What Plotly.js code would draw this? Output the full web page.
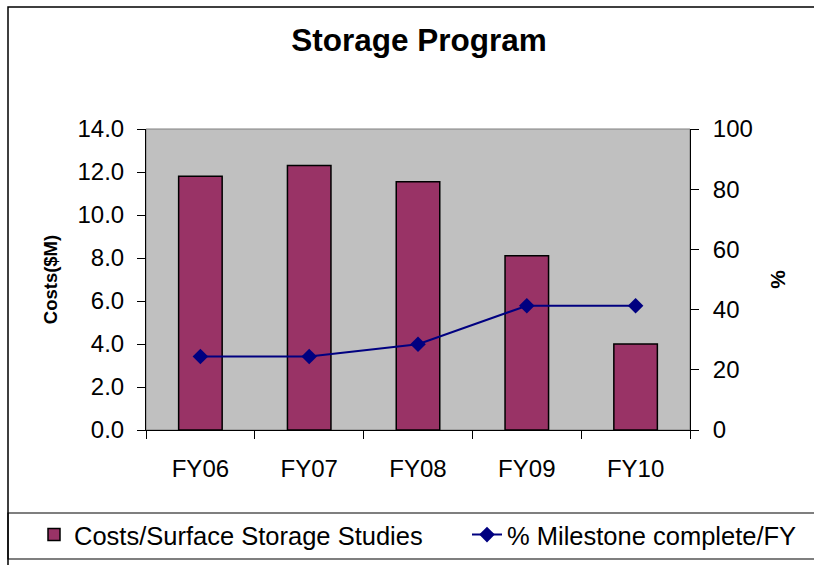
<!DOCTYPE html>
<html>
<head>
<meta charset="utf-8">
<script src="https://cdn.plot.ly/plotly-3.0.1.min.js"></script>
<style>html,body{margin:0;padding:0;background:#fff}#chart{width:814px;height:565px}</style>
</head>
<body>
<div id="chart"></div>
<script>
const categories = ["FY06", "FY07", "FY08", "FY09", "FY10"];
const costs = [11.8, 12.3, 11.55, 8.1, 4.0];
const milestonePct = [24.4, 24.4, 28.5, 41.3, 41.3];
const costTicks = [0, 2, 4, 6, 8, 10, 12, 14];
const pctTicks = [0, 20, 40, 60, 80, 100];

const boundaries = categories.map((_, i) => i - 0.5).concat([categories.length - 0.5]);

const font = "Liberation Sans, Arial, sans-serif";

const traces = [
  {
    type: "bar",
    name: "Costs/Surface Storage Studies",
    x: categories,
    y: costs,
    marker: {color: "#993366", line: {color: "#000000", width: 1.5}},
    xaxis: "x", yaxis: "y",
    legend: "legend"
  },
  {
    type: "scatter",
    mode: "lines+markers",
    name: "% Milestone complete/FY",
    x: categories,
    y: milestonePct,
    line: {color: "#000080", width: 2},
    marker: {symbol: "diamond", size: 12, color: "#000080"},
    xaxis: "x", yaxis: "y2",
    legend: "legend2"
  }
];

// paper coordinate helpers (plot area: left 146, right 690, top 129, bottom 430)
const W = 814, H = 565, L = 146, R = 690, T = 129, B = 430;
const px = v => (v - L) / (R - L);
const py = v => (B - v) / (B - T);

const legendCommon = {
  orientation: "h", xanchor: "left", yanchor: "middle", y: py(535),
  font: {family: font, size: 25.5, color: "#000"}, bgcolor: "rgba(0,0,0,0)", borderwidth: 0
};

const layout = {
  width: W, height: H,
  margin: {l: L, r: W - R, t: T, b: H - B, pad: 0, autoexpand: false},
  paper_bgcolor: "#ffffff",
  plot_bgcolor: "#c0c0c0",
  font: {family: font, size: 24, color: "#000"},
  title: {text: "<b>Storage Program</b>", font: {family: font, size: 31.5, color: "#000"},
          x: px(419), xref: "paper", y: 1 - 39.5 / H, yanchor: "middle", xanchor: "center"},
  bargap: 0.6,
  showlegend: true,
  legend: Object.assign({}, legendCommon, {x: px(34)}),
  legend2: Object.assign({}, legendCommon, {x: px(467)}),
  xaxis: {
    type: "category", range: [-0.5, 4.5], showgrid: false, zeroline: false,
    showline: true, linecolor: "#000", linewidth: 1,
    ticks: "outside", ticklen: 8, tickcolor: "#000", tickson: "boundaries",
    ticklabelstandoff: 17, tickfont: {family: font, size: 24}, fixedrange: true
  },
  xaxis3: {
    overlaying: "x", anchor: "y", type: "linear", range: [-0.5, 4.5],
    tickmode: "array", tickvals: boundaries, ticks: "inside", ticklen: 7, tickcolor: "#000",
    showticklabels: false, showgrid: false, zeroline: false, showline: false
  },
  yaxis: {
    range: [0, 14], tickmode: "array", tickvals: costTicks, tickformat: ".1f",
    showgrid: false, zeroline: false, showline: true, linecolor: "#000", linewidth: 1,
    ticks: "outside", ticklen: 8, tickcolor: "#000", ticklabelstandoff: 8,
    tickfont: {family: font, size: 24},
    title: {text: "<b>Costs($M)</b>", font: {family: font, size: 18.5}, standoff: 15}
  },
  yaxis3: {
    overlaying: "y", anchor: "x", side: "left", range: [0, 14],
    tickmode: "array", tickvals: costTicks, ticks: "inside", ticklen: 7, tickcolor: "#000",
    showticklabels: false, showgrid: false, zeroline: false, showline: false
  },
  yaxis2: {
    overlaying: "y", side: "right", anchor: "x", range: [0, 100],
    tickmode: "array", tickvals: pctTicks,
    showgrid: false, zeroline: false, showline: true, linecolor: "#000", linewidth: 1,
    ticks: "outside", ticklen: 8, tickcolor: "#000", ticklabelstandoff: 9,
    tickfont: {family: font, size: 24},
    title: {text: "<b>%</b>", font: {family: font, size: 21}, standoff: 18}
  },
  yaxis4: {
    overlaying: "y", anchor: "x", side: "right", range: [0, 100],
    tickmode: "array", tickvals: pctTicks, ticks: "inside", ticklen: 7, tickcolor: "#000",
    showticklabels: false, showgrid: false, zeroline: false, showline: false
  },
  shapes: [
    {type: "rect", xref: "paper", yref: "paper", x0: px(8), x1: px(840), y0: py(620), y1: py(7),
     line: {color: "#000", width: 1.5}, fillcolor: "rgba(0,0,0,0)", layer: "below"},
    {type: "rect", xref: "paper", yref: "paper", x0: px(8), x1: px(840), y0: py(559), y1: py(513),
     line: {color: "#000", width: 1.2}, fillcolor: "rgba(0,0,0,0)", layer: "below"},
    {type: "rect", xref: "paper", yref: "paper", x0: 0, x1: 1, y0: 0, y1: 1,
     line: {color: "#808080", width: 1}, fillcolor: "rgba(0,0,0,0)", layer: "below"}
  ]
};

Plotly.newPlot("chart", traces, layout, {displayModeBar: false, staticPlot: true});
</script>
</body>
</html>
